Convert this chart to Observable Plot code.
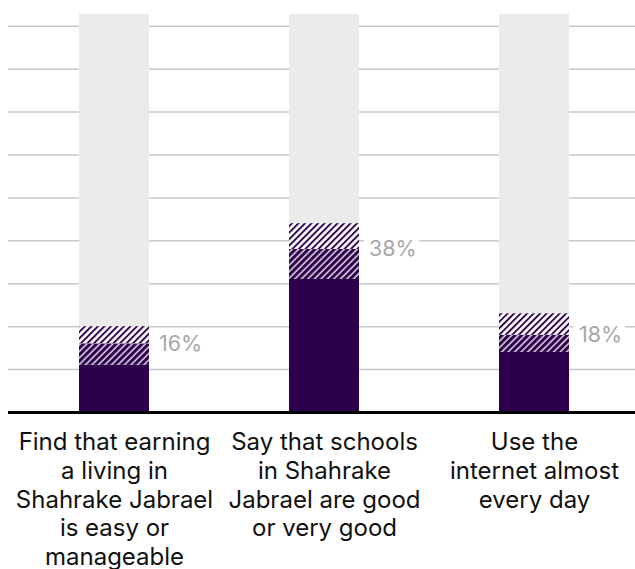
<!DOCTYPE html>
<html>
<head>
<meta charset="utf-8">
<script src="https://cdn.jsdelivr.net/npm/d3@7"></script>
<script src="https://cdn.jsdelivr.net/npm/@observablehq/plot@0.6"></script>
<style>
  html, body { margin: 0; padding: 0; background: #fff; overflow: hidden; }
  #chart svg { font-family: Inter, "Noto Sans", sans-serif; }
</style>
</head>
<body>
<div id="chart"></div>
<script>
// Data
const categories = [
  "Find that earning\na living in\nShahrake Jabrael\nis easy or\nmanageable",
  "Say that schools\nin Shahrake\nJabrael are good\nor very good",
  "Use the\ninternet almost\nevery day"
];
const lowValues = [11, 31, 14];
const values = [16, 38, 18];
const highValues = [20, 44, 23];
const valueLabels = ["16%", "38%", "18%"];
const gridTicks = [10, 20, 30, 40, 50, 60, 70, 80, 90];

const rows = categories.map((c, i) => ({
  cat: c, low: lowValues[i], value: values[i], high: highValues[i], label: valueLabels[i]
}));

const purple = "#2d004b";

const defsMark = () => {
  const defs = d3.create("svg:defs");
  const p1 = defs.append("pattern")
    .attr("id", "hatchDark").attr("patternUnits", "userSpaceOnUse")
    .attr("width", 4.6).attr("height", 4.6).attr("patternTransform", "rotate(45)");
  p1.append("rect").attr("width", 4.6).attr("height", 4.6).attr("fill", purple);
  p1.append("line").attr("x1", 1).attr("x2", 1).attr("y1", 0).attr("y2", 4.6)
    .attr("stroke", "#fff").attr("stroke-width", 1.3);
  const p2 = defs.append("pattern")
    .attr("id", "hatchLight").attr("patternUnits", "userSpaceOnUse")
    .attr("width", 4.6).attr("height", 4.6).attr("patternTransform", "rotate(45)");
  p2.append("rect").attr("width", 4.6).attr("height", 4.6).attr("fill", "#fff");
  p2.append("line").attr("x1", 1).attr("x2", 1).attr("y1", 0).attr("y2", 4.6)
    .attr("stroke", purple).attr("stroke-width", 1.9);
  return defs.node();
};

const inset = 70;

const chart = Plot.plot({
  width: 635,
  height: 569,
  marginTop: 14,
  marginBottom: 157,
  marginLeft: 8,
  marginRight: 0,
  x: { domain: categories, range: [8, 640], padding: 0, axis: null },
  y: { domain: [0, 92.75], axis: null },
  marks: [
    defsMark,
    Plot.ruleY(gridTicks, { stroke: "#c8c8c8", strokeWidth: 1.5 }),
    Plot.cell(rows, { x: "cat", fill: "#ebebeb", inset: 0, insetLeft: inset, insetRight: inset }),
    Plot.barY(rows, { x: "cat", y1: 0, y2: "low", fill: purple, insetLeft: inset, insetRight: inset }),
    Plot.barY(rows, { x: "cat", y1: "low", y2: "value", fill: "url(#hatchDark)", insetLeft: inset, insetRight: inset }),
    Plot.barY(rows, { x: "cat", y1: "value", y2: "high", fill: "url(#hatchLight)", insetLeft: inset, insetRight: inset }),
    Plot.ruleY([0], { stroke: "#000", strokeWidth: 3 }),
    Plot.text(rows, {
      x: "cat", y: "value", text: "label", dx: 44.5, dy: 0, textAnchor: "start",
      fill: "#a8a8a8", stroke: "#fff", strokeWidth: 14, fontSize: 21.5
    }),
    Plot.text(rows, {
      x: "cat", y: 0, text: "cat", dy: 17, lineAnchor: "top", lineHeight: 1.2,
      fill: "#111", fontSize: 24
    })
  ]
});
document.getElementById("chart").append(chart);
</script>
</body>
</html>
